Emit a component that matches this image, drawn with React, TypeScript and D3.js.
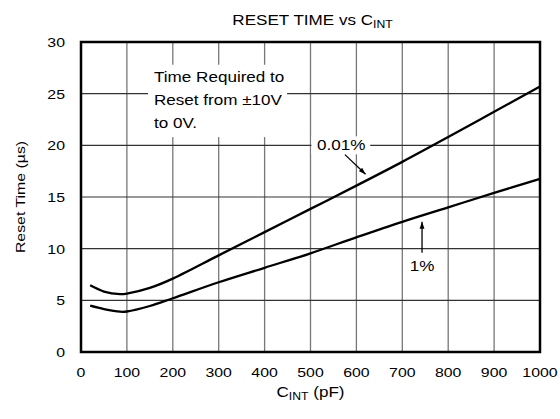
import React from "react";
import * as d3 from "d3";

const W = 560;
const H = 419;
const SX = 1.22;
const FONT = "'Liberation Sans', Arial, Helvetica, sans-serif";

const xTicks = [0, 100, 200, 300, 400, 500, 600, 700, 800, 900, 1000];
const yTicks = [0, 5, 10, 15, 20, 25, 30];

const capX = [20, 50, 85, 100, 150, 200, 300, 400, 500, 600, 700, 800, 900, 1000];
const reset001 = [6.45, 5.85, 5.6, 5.65, 6.2, 7.1, 9.35, 11.6, 13.85, 16.1, 18.4, 20.8, 23.25, 25.7];
const reset1 = [4.48, 4.15, 3.9, 3.92, 4.45, 5.2, 6.75, 8.15, 9.55, 11.1, 12.6, 14.0, 15.4, 16.75];

const noteLines = ["Time Required to", "Reset from ±10V", "to 0V."];

const margin = { left: 81, right: 20, top: 42, bottom: 67 };

function T(props: {
  x: number;
  y: number;
  anchor?: string;
  size?: number;
  rotate?: number;
  children: React.ReactNode;
}) {
  const { x, y, anchor = "start", size = 13, rotate = 0, children } = props;
  return (
    <text
      transform={`translate(${x},${y}) rotate(${rotate}) scale(${SX},1)`}
      textAnchor={anchor}
      fontSize={size}
      fontFamily={FONT}
      fill="#000"
    >
      {children}
    </text>
  );
}

export default function App() {
  const x = d3
    .scaleLinear()
    .domain([0, 1000])
    .range([margin.left, W - margin.right]);
  const y = d3
    .scaleLinear()
    .domain([0, 30])
    .range([H - margin.bottom, margin.top]);

  const line = d3
    .line<number>()
    .x((_, i) => x(capX[i]))
    .y((d) => y(d))
    .curve(d3.curveCatmullRom.alpha(0.5));

  const x0 = x(0), x1 = x(1000), yb = y(0), yt = y(30);

  // annotation box in data coords
  const boxX0 = x(146), boxX1 = x(449), boxY0 = y(27.8), boxY1 = y(20.8);

  const a1s = [x(575), y(19.1)];
  const a1e = [x(620), y(17.2)];
  const a2s = [x(743), y(9.6)];
  const a2e = [x(743), y(12.6)];

  return (
    <svg width={W} height={H} style={{ position: "absolute", left: 0, top: 0, background: "#fff" }}>
      <defs>
        <marker id="ah" viewBox="0 0 10 10" refX="10" refY="5" markerWidth="7" markerHeight="7" orient="auto" markerUnits="userSpaceOnUse">
          <path d="M0,1.5 L10,5 L0,8.5 Z" fill="#000" />
        </marker>
      </defs>
      <rect x={0} y={0} width={W} height={H} fill="#fff" />
      {/* grid */}
      {xTicks.slice(1, -1).map((t) => (
        <line key={"vx" + t} x1={x(t)} x2={x(t)} y1={yt} y2={yb} stroke="#777" strokeWidth={1.3} />
      ))}
      {yTicks.slice(1, -1).map((t) => (
        <line key={"hy" + t} x1={x0} x2={x1} y1={y(t)} y2={y(t)} stroke="#333" strokeWidth={1.2} />
      ))}
      {/* annotation box */}
      <rect x={boxX0} y={boxY0} width={boxX1 - boxX0} height={boxY1 - boxY0} fill="#fff" />
      {noteLines.map((s, i) => (
        <T key={s} x={boxX0 + 6} y={boxY0 + 17 + i * 23} size={14}>
          {s}
        </T>
      ))}
      {/* curves */}
      <path d={line(reset001) || ""} fill="none" stroke="#000" strokeWidth={2.3} />
      <path d={line(reset1) || ""} fill="none" stroke="#000" strokeWidth={2.3} />
      {/* labels */}
      <rect x={x(502)} y={y(20) - 9} width={x(630) - x(502)} height={18} fill="#fff" />
      <T x={x(514)} y={y(20) + 5} size={14}>0.01%</T>
      <line x1={a1s[0]} y1={a1s[1]} x2={a1e[0]} y2={a1e[1]} stroke="#000" strokeWidth={1.3} markerEnd="url(#ah)" />
      <T x={x(743)} y={y(8.3) + 5} size={14} anchor="middle">1%</T>
      <line x1={a2s[0]} y1={a2s[1]} x2={a2e[0]} y2={a2e[1]} stroke="#000" strokeWidth={1.3} markerEnd="url(#ah)" />
      {/* frame */}
      <rect x={x0} y={yt} width={x1 - x0} height={yb - yt} fill="none" stroke="#000" strokeWidth={2.5} />
      {/* ticks */}
      {xTicks.map((t) => (
        <T key={"xt" + t} x={x(t)} y={yb + 25} anchor="middle">
          {t}
        </T>
      ))}
      {yTicks.map((t) => (
        <T key={"yt" + t} x={x0 - 16} y={y(t) + 5} anchor="end">
          {t}
        </T>
      ))}
      {/* title */}
      <T x={(x0 + x1) / 2 + 2} y={25} anchor="middle" size={14}>
        RESET TIME vs C<tspan fontSize={10} dy={3}>INT</tspan>
      </T>
      <T x={(x0 + x1) / 2} y={yb + 45} anchor="middle" size={14}>
        C<tspan fontSize={10} dy={3}>INT</tspan>
        <tspan dy={-3}> (pF)</tspan>
      </T>
      <T x={25} y={(yt + yb) / 2} anchor="middle" rotate={-90}>
        Reset Time (µs)
      </T>
    </svg>
  );
}
